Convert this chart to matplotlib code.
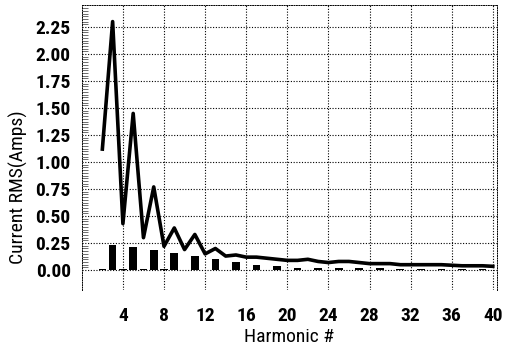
import numpy as np
import matplotlib.pyplot as plt
from matplotlib.ticker import MultipleLocator, FixedLocator

plt.rcParams['font.family'] = ['Liberation Sans Narrow', 'Roboto Condensed', 'DejaVu Sans']
plt.rcParams['font.stretch'] = 'condensed'
plt.rcParams['font.weight'] = 'bold'

## Data
harmonic = list(range(2, 41))
rms_line = [1.12, 2.30, 0.43, 1.45, 0.30, 0.77, 0.22, 0.39, 0.19, 0.33,
            0.15, 0.20, 0.13, 0.14, 0.12, 0.12, 0.11, 0.10, 0.09, 0.09,
            0.10, 0.08, 0.07, 0.08, 0.08, 0.07, 0.06, 0.06, 0.06, 0.05,
            0.05, 0.05, 0.05, 0.05, 0.045, 0.04, 0.04, 0.04, 0.035]
rms_bars = [0.01, 0.23, 0.01, 0.21, 0.01, 0.19, 0.01, 0.16, 0.005, 0.13,
            0.005, 0.10, 0.005, 0.075, 0.005, 0.05, 0.005, 0.035, 0.005, 0.02,
            0.005, 0.015, 0.005, 0.015, 0.005, 0.015, 0.005, 0.015, 0.005, 0.012,
            0.005, 0.012, 0.005, 0.01, 0.005, 0.01, 0.005, 0.01, 0.005]

if __name__ == '__main__':
    fig = plt.figure(figsize=(5.05, 3.47), dpi=100)
    ax = fig.add_axes([0.162, 0.164, 0.822, 0.822])

    ax.bar(harmonic, rms_bars, width=0.75, color='black', zorder=3)
    ax.plot(harmonic, rms_line, color='black', lw=2.6, zorder=4)

    ax.set_xlim(0, 40.4)
    ax.set_ylim(-0.185, 2.455)
    ax.set_yticks(np.arange(0, 2.26, 0.25))
    ax.yaxis.set_minor_locator(FixedLocator(np.arange(0, 2.45, 0.025)))
    ax.yaxis.set_major_formatter(plt.FormatStrFormatter('%.2f'))
    ax.set_xticks(range(4, 41, 4))

    ax.grid(True, which='major', color='black', linestyle=(0, (1, 1.5)), lw=0.8)
    ax.tick_params(axis='both', which='major', length=0, labelsize=14)
    ax.tick_params(axis='x', pad=12)
    ax.tick_params(axis='y', pad=8)
    ax.tick_params(axis='y', which='minor', direction='in', length=4,
                   width=0.6, color='#555555')
    for s in ax.spines.values():
        s.set_linestyle((0, (1, 1.5)))
        s.set_linewidth(0.7)
    ax.spines['bottom'].set_visible(False)

    ax.set_xlabel('Harmonic #', fontsize=14, labelpad=2)
    ax.set_ylabel('Current RMS(Amps)', fontsize=14)
    ax.yaxis.set_label_coords(-0.13, 0.36)

    fig.savefig('out.png', dpi=100)
